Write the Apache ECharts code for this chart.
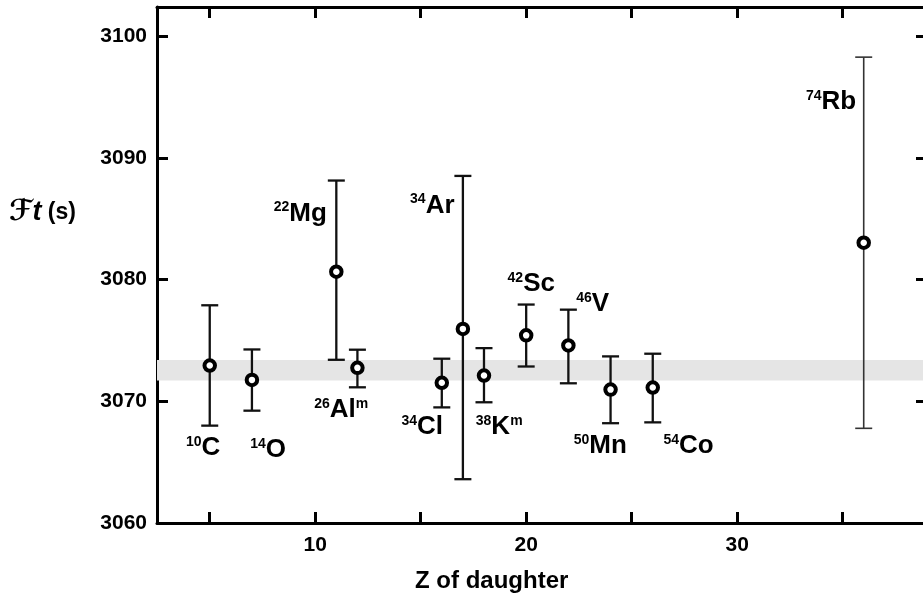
<!DOCTYPE html>
<html><head><meta charset="utf-8">
<script src="https://cdn.jsdelivr.net/npm/echarts@6/dist/echarts.min.js"></script>
<style>html,body{margin:0;padding:0;background:#fff;overflow:hidden}#c{width:923px;height:599px}</style>
</head><body><div id="c"></div>
<script>
// ---- data ----
const nuclides    = ['10C','14O','22Mg','26Alm','34Cl','34Ar','38Km','42Sc','46V','50Mn','54Co','74Rb'];
const massNumbers = ['10','14','22','26','34','34','38','42','46','50','54','74'];
const symbols     = ['C','O','Mg','Al','Cl','Ar','K','Sc','V','Mn','Co','Rb'];
const isomer      = [false,false,false,true,false,false,true,false,false,false,false,false];
const zDaughter   = [5, 7, 11, 12, 16, 17, 18, 20, 22, 24, 26, 36];
const ftValue     = [3072.94, 3071.76, 3080.65, 3072.75, 3071.52, 3075.95, 3072.12, 3075.42, 3074.59, 3070.96, 3071.13, 3083.03];
const ftLow       = [3068.00, 3069.23, 3073.41, 3071.15, 3069.50, 3063.60, 3069.92, 3072.86, 3071.48, 3068.20, 3068.27, 3067.78];
const ftHigh      = [3077.89, 3074.26, 3088.14, 3074.24, 3073.50, 3088.52, 3074.37, 3077.95, 3077.53, 3073.69, 3073.91, 3098.28];
// label anchors (data coordinates)
const labelZ      = [4.69, 7.77, 9.29, 11.23, 15.07, 15.55, 18.72, 20.24, 23.15, 23.51, 27.70, 34.45];
const labelFt     = [3066.18, 3065.98, 3085.43, 3069.27, 3067.91, 3086.09, 3067.91, 3079.62, 3078.00, 3066.31, 3066.31, 3094.62];
const bandRange   = [3071.7, 3073.4];
const xTickLabels = [10, 20, 30];
const yTickLabels = [3060, 3070, 3080, 3090, 3100];

const FONT = "'Liberation Sans', Arial, Helvetica, sans-serif";
const chart = echarts.init(document.getElementById('c'), null, {renderer: 'canvas'});

const axisLineStyle = {lineStyle: {color: '#000', width: 3}};
const tickStyle = {inside: true, length: 11, lineStyle: {color: '#000', width: 3}};
const xBase = {type: 'value', min: 2.5, max: 39, splitNumber: 7, splitLine: {show: false},
  axisLine: axisLineStyle, axisTick: tickStyle};
const yBase = {type: 'value', min: 3060, max: 3102.4, interval: 10, splitLine: {show: false},
  axisLine: axisLineStyle, axisTick: tickStyle};

const thinBars = ['74Rb'];

const option = {
  backgroundColor: '#fff',
  animation: false,
  grid: {left: 157, width: 770, top: 7, bottom: 76, containLabel: false, outerBoundsMode: 'none'},
  xAxis: [
    Object.assign({}, xBase, {position: 'bottom',
      axisLabel: {show: true, color: '#000', fontFamily: FONT, fontWeight: 'bold', fontSize: 21, margin: 12,
        formatter: v => xTickLabels.indexOf(v) >= 0 ? String(v) : ''}}),
    Object.assign({}, xBase, {position: 'top', axisLabel: {show: false}})
  ],
  yAxis: [
    Object.assign({}, yBase, {position: 'left',
      axisLabel: {show: true, color: '#000', fontFamily: FONT, fontWeight: 'bold', fontSize: 21, margin: 10,
        formatter: v => yTickLabels.indexOf(v) >= 0 ? String(v) : ''}}),
    Object.assign({}, yBase, {position: 'right', axisLabel: {show: false}})
  ],
  graphic: [
    {type: 'text', left: 9, top: 198, z: 100, style: {
      text: '{F|ℱ}{t|t}{s| (s)}',
      rich: {
        F: {fontFamily: 'DejaVu Sans', fontWeight: 'bold', fontStyle: 'italic', fontSize: 29, fill: '#000'},
        t: {fontFamily: FONT, fontWeight: 'bold', fontStyle: 'italic', fontSize: 27, fill: '#000'},
        s: {fontFamily: FONT, fontWeight: 'bold', fontSize: 23, fill: '#000'}
      }}},
    {type: 'text', left: 415, top: 569, z: 100, style: {
      text: 'Z of daughter', fontFamily: FONT, fontWeight: 'bold', fontSize: 24, fill: '#000'}}
  ],
  series: [
    {
      type: 'line', data: [], xAxisIndex: 0, yAxisIndex: 0, z: 1, silent: true,
      markArea: {silent: true, itemStyle: {color: '#e5e5e5'},
        data: [[{yAxis: bandRange[0]}, {yAxis: bandRange[1]}]]}
    },
    {
      type: 'custom', z: 3, xAxisIndex: 0, yAxisIndex: 0,
      data: zDaughter.map((z, i) => [z, ftLow[i], ftHigh[i]]),
      renderItem: function (params, api) {
        const x = api.value(0);
        const top = api.coord([x, api.value(2)]);
        const bot = api.coord([x, api.value(1)]);
        const thin = thinBars.indexOf(nuclides[params.dataIndex]) >= 0;
        const st = {stroke: thin ? '#333' : '#111', lineWidth: thin ? 1.6 : 2.3};
        const hw = 8.5;
        return {type: 'group', children: [
          {type: 'line', shape: {x1: top[0], y1: top[1], x2: bot[0], y2: bot[1]}, style: st},
          {type: 'line', shape: {x1: top[0] - hw, y1: top[1], x2: top[0] + hw, y2: top[1]}, style: st},
          {type: 'line', shape: {x1: bot[0] - hw, y1: bot[1], x2: bot[0] + hw, y2: bot[1]}, style: st}
        ]};
      }
    },
    {
      type: 'scatter', z: 5, xAxisIndex: 0, yAxisIndex: 0,
      symbol: 'circle', symbolSize: 10.5,
      itemStyle: {color: '#fff', borderColor: '#000', borderWidth: 4, opacity: 1},
      data: zDaughter.map((z, i) => [z, ftValue[i]])
    },
    {
      type: 'custom', z: 6, xAxisIndex: 0, yAxisIndex: 0, silent: true,
      data: labelZ.map((z, i) => [z, labelFt[i]]),
      renderItem: function (params, api) {
        const i = params.dataIndex;
        const p = api.coord([api.value(0), api.value(1)]);
        return {
          type: 'text', x: p[0], y: p[1],
          style: {
            text: '{sup|' + massNumbers[i] + '}{el|' + symbols[i] + '}' + (isomer[i] ? '{sup|m}' : ''),
            align: 'center', verticalAlign: 'middle', fill: '#000',
            rich: {
              sup: {fontFamily: FONT, fontWeight: 'bold', fontSize: 14, fill: '#000', verticalAlign: 'top', lineHeight: 12},
              el: {fontFamily: FONT, fontWeight: 'bold', fontSize: 26, fill: '#000', lineHeight: 26}
            }
          }
        };
      }
    }
  ]
};
chart.setOption(option);
</script></body></html>
